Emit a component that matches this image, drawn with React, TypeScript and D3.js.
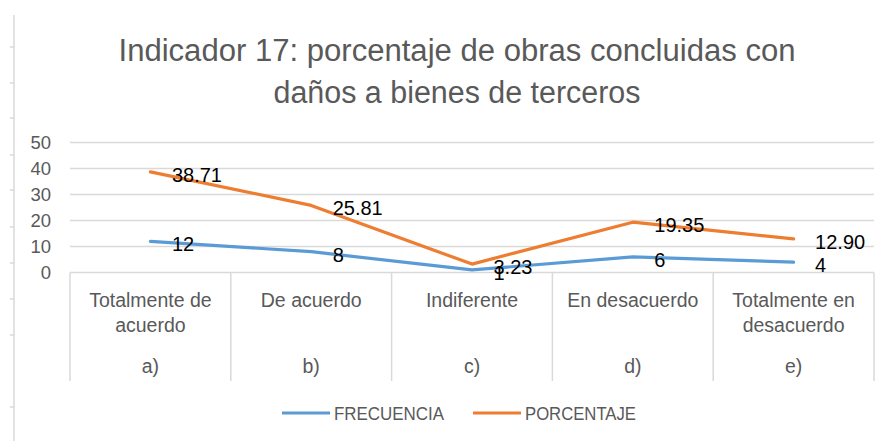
import React from "react";
import * as d3 from "d3";

const categoryLines: string[][] = [
  ["Totalmente de", "acuerdo"],
  ["De acuerdo"],
  ["Indiferente"],
  ["En desacuerdo"],
  ["Totalmente en", "desacuerdo"],
];
const letters = ["a)", "b)", "c)", "d)", "e)"];
const frecuencia = [12, 8, 1, 6, 4];
const porcentaje = [38.71, 25.81, 3.23, 19.35, 12.9];
const porcentajeLabels = ["38.71", "25.81", "3.23", "19.35", "12.90"];
const yTicks = [0, 10, 20, 30, 40, 50];
const titleLines = [
  "Indicador 17: porcentaje de obras concluidas con",
  "daños a bienes de terceros",
];
const rulerTicks = [47, 83, 118, 155, 190, 227, 263, 299, 335, 407];

const W = 887;
const H = 441;
const GRID = "#D9D9D9";
const TEXT = "#595959";
const BLUE = "#5B9BD5";
const ORANGE = "#ED7D31";

export default function App() {
  const keys = letters;
  const x = d3.scaleBand<string>().domain(keys).range([70, 874]).padding(0);
  const y = d3.scaleLinear().domain([0, 50]).range([272.5, 142.5]);
  const cx = (i: number) => (x(keys[i]) as number) + x.bandwidth() / 2;
  const line = d3
    .line<number>()
    .x((_, i) => cx(i))
    .y((d) => y(d));

  const series = [
    { name: "FRECUENCIA", values: frecuencia, labels: frecuencia.map(String), color: BLUE, lx: 282, tl: 110 },
    { name: "PORCENTAJE", values: porcentaje, labels: porcentajeLabels, color: ORANGE, lx: 473, tl: 111 },
  ];

  const fontMain = "'Liberation Sans', Arial, sans-serif";

  return (
    <svg
      width={W}
      height={H}
      style={{ position: "absolute", left: 0, top: 0, background: "#fff" }}
    >
      <rect x={0} y={0} width={W} height={H} fill="#fff" />
      {/* left ruler */}
      <line x1={14} x2={14} y1={15} y2={H} stroke={GRID} strokeWidth={1.5} />
      {rulerTicks.map((t) => (
        <line key={t} x1={10} x2={14} y1={t} y2={t} stroke={GRID} strokeWidth={1.5} />
      ))}

      {/* title */}
      {titleLines.map((t, i) => (
        <text
          key={i}
          x={457}
          y={61 + i * 41.5}
          textAnchor="middle"
          fill={TEXT}
          fontFamily={fontMain}
          fontSize={31}
          textLength={i === 0 ? 677 : 367}
          lengthAdjust="spacingAndGlyphs"
        >
          {t}
        </text>
      ))}

      {/* gridlines */}
      {yTicks.map((t) => (
        <line
          key={t}
          x1={70}
          x2={874}
          y1={y(t)}
          y2={y(t)}
          stroke={GRID}
          strokeWidth={1.5}
        />
      ))}
      {/* y tick labels */}
      {yTicks.map((t) => (
        <text
          key={t}
          x={51}
          y={y(t)}
          dy="0.35em"
          textAnchor="end"
          fill={TEXT}
          fontFamily={fontMain}
          fontSize={18.5}
        >
          {t}
        </text>
      ))}

      {/* category table */}
      {keys.map((k) => (
        <line
          key={k}
          x1={x(k) as number}
          x2={x(k) as number}
          y1={y(0)}
          y2={381}
          stroke={GRID}
          strokeWidth={1.5}
        />
      ))}
      <line x1={874} x2={874} y1={y(0)} y2={381} stroke={GRID} strokeWidth={1.5} />
      {categoryLines.map((lines, i) => (
        <g key={i}>
          {lines.map((l, j) => (
            <text
              key={j}
              x={cx(i)}
              y={306.5 + j * 25}
              textAnchor="middle"
              fill={TEXT}
              fontFamily={fontMain}
              fontSize={19.5}
            >
              {l}
            </text>
          ))}
          <text
            x={cx(i)}
            y={373}
            textAnchor="middle"
            fill={TEXT}
            fontFamily={fontMain}
            fontSize={19.5}
          >
            {letters[i]}
          </text>
        </g>
      ))}

      {/* lines */}
      {series.map((s) => (
        <path
          key={s.name}
          d={line(s.values) as string}
          fill="none"
          stroke={s.color}
          strokeWidth={3.2}
          strokeLinejoin="round"
          strokeLinecap="round"
        />
      ))}
      {/* data labels */}
      {series.map((s) =>
        s.values.map((v, i) => (
          <text
            key={s.name + i}
            x={cx(i) + 21.5}
            y={y(v) + 3}
            dy="0.35em"
            fill="#000"
            fontFamily={fontMain}
            fontSize={20}
          >
            {s.labels[i]}
          </text>
        ))
      )}

      {/* legend */}
      {series.map((s) => (
        <g key={s.name}>
          <line x1={s.lx} x2={s.lx + 48} y1={413} y2={413} stroke={s.color} strokeWidth={3.2} />
          <text
            x={s.lx + 52}
            y={413}
            dy="0.35em"
            fill={TEXT}
            fontFamily={fontMain}
            fontSize={19}
            textLength={s.tl}
            lengthAdjust="spacingAndGlyphs"
          >
            {s.name}
          </text>
        </g>
      ))}
    </svg>
  );
}
